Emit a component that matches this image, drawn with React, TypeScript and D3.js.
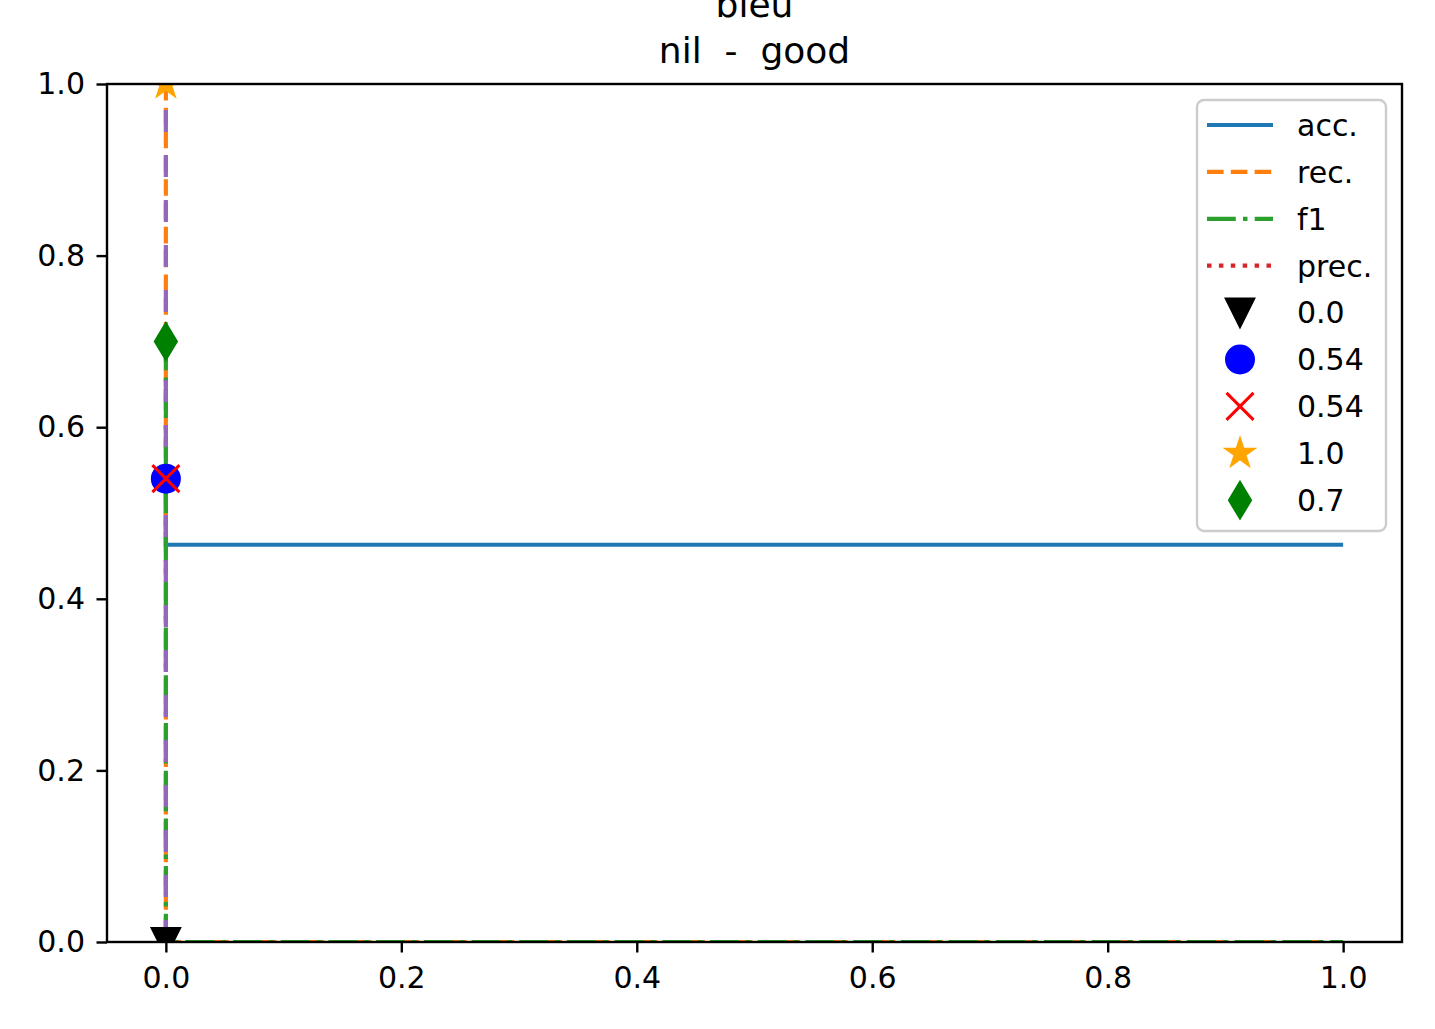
import { useEffect, useRef } from 'react'
import * as d3 from 'd3'

// curves: threshold on x, metric on y
const thresholds = [0.0, 0.0, 1.0]
const accValues = [0.54, 0.463, 0.463]
const recValues = [1.0, 0.0, 0.0]
const f1Values = [0.7, 0.0, 0.0]
const precValues = [0.54, NaN, NaN]

// best-threshold vertical line
const bestLineX = [0.0, 0.0]
const bestLineY = [0.0, 1.0]

// highlighted points
const markerLabels = ['0.0', '0.54', '0.54', '1.0', '0.7']
const markerValues = [0.0, 0.54, 0.54, 1.0, 0.7]
const markerThreshold = 0.0

const xTicks = [0.0, 0.2, 0.4, 0.6, 0.8, 1.0]
const yTicks = [0.0, 0.2, 0.4, 0.6, 0.8, 1.0]
const titleLines = ['bleu', 'nil  -  good']

const W = 1435
const H = 1029
const FONT = '"DejaVu Sans", sans-serif'

type Shape = 'triangle' | 'circle' | 'x' | 'star' | 'diamond'

const drawMarker = (
  g: d3.Selection<SVGGElement, unknown, null, undefined>,
  shape: Shape,
  cx: number,
  cy: number,
  color: string
) => {
  const s = 13.5
  if (shape === 'circle') {
    g.append('circle').attr('cx', cx).attr('cy', cy).attr('r', s)
      .attr('fill', color).attr('stroke', color).attr('stroke-width', 3)
  } else if (shape === 'triangle') {
    g.append('path')
      .attr('d', `M${cx - s},${cy - s}L${cx + s},${cy - s}L${cx},${cy + s}Z`)
      .attr('fill', color).attr('stroke', color).attr('stroke-width', 3)
      .attr('stroke-linejoin', 'miter')
  } else if (shape === 'x') {
    g.append('path')
      .attr('d', `M${cx - s},${cy - s}L${cx + s},${cy + s}M${cx - s},${cy + s}L${cx + s},${cy - s}`)
      .attr('stroke', color).attr('stroke-width', 3).attr('fill', 'none')
  } else if (shape === 'star') {
    const pts: [number, number][] = []
    for (let i = 0; i < 10; i++) {
      const r = i % 2 === 0 ? s : s * 0.381966
      const a = (i * Math.PI) / 5
      pts.push([cx + r * Math.sin(a), cy - r * Math.cos(a)])
    }
    g.append('path')
      .attr('d', d3.line()(pts) + 'Z')
      .attr('fill', color).attr('stroke', color).attr('stroke-width', 3)
      .attr('stroke-linejoin', 'miter')
  } else {
    const hh = 17.5
    const hw = 10.5
    g.append('path')
      .attr('d', `M${cx},${cy - hh}L${cx + hw},${cy}L${cx},${cy + hh}L${cx - hw},${cy}Z`)
      .attr('fill', color).attr('stroke', color).attr('stroke-width', 3)
      .attr('stroke-linejoin', 'miter')
  }
}

export default function App() {
  const svgRef = useRef<SVGSVGElement>(null)

  useEffect(() => {
    if (!svgRef.current) return
    const svg = d3.select(svgRef.current)
    svg.selectAll('*').remove()

    const margin = { top: 84, right: 33, bottom: 87, left: 107 }

    const x = d3.scaleLinear()
      .domain([-0.05, 1.05])
      .range([margin.left, W - margin.right])

    const y = d3.scaleLinear()
      .domain([0, 1])
      .range([H - margin.bottom, margin.top])

    svg.append('rect').attr('width', W).attr('height', H).attr('fill', '#fff')

    svg.append('defs').append('clipPath').attr('id', 'plot-clip')
      .append('rect')
      .attr('x', margin.left).attr('y', margin.top)
      .attr('width', W - margin.left - margin.right)
      .attr('height', H - margin.top - margin.bottom)

    const plot = svg.append('g').attr('clip-path', 'url(#plot-clip)')

    const line = d3.line<[number, number]>()
      .defined(d => !isNaN(d[1]))
      .x(d => x(d[0]))
      .y(d => y(d[1]))

    const lw = 4.2
    const series = [
      { name: 'acc.', values: accValues, color: '#1f77b4', dash: null },
      { name: 'rec.', values: recValues, color: '#ff7f0e', dash: '16.6,7.2' },
      { name: 'f1', values: f1Values, color: '#2ca02c', dash: '28.8,7.2,4.5,7.2' },
      { name: 'prec.', values: precValues, color: '#d62728', dash: '4.5,7.4' }
    ]

    series.forEach(s => {
      const pts = thresholds.map((t, i) => [t, s.values[i]] as [number, number])
      plot.append('path')
        .attr('d', line(pts))
        .attr('fill', 'none')
        .attr('stroke', s.color)
        .attr('stroke-width', lw)
        .attr('stroke-dasharray', s.dash)
    })

    // best-threshold line
    plot.append('path')
      .attr('d', line(bestLineX.map((t, i) => [t, bestLineY[i]] as [number, number])))
      .attr('fill', 'none')
      .attr('stroke', '#9467bd')
      .attr('stroke-width', lw)
      .attr('stroke-dasharray', '22,23')

    const markers: { shape: Shape; color: string }[] = [
      { shape: 'triangle', color: '#000000' },
      { shape: 'circle', color: '#0000ff' },
      { shape: 'x', color: '#ff0000' },
      { shape: 'star', color: '#ffa500' },
      { shape: 'diamond', color: '#008000' }
    ]

    markers.forEach((m, i) => {
      drawMarker(plot, m.shape, x(markerThreshold), y(markerValues[i]), m.color)
    })

    // axes
    const xAxis = svg.append('g')
      .attr('transform', `translate(0, ${H - margin.bottom})`)
      .call(d3.axisBottom(x).tickValues(xTicks).tickFormat(d3.format('.1f'))
        .tickSize(10.5).tickPadding(14))
    const yAxis = svg.append('g')
      .attr('transform', `translate(${margin.left}, 0)`)
      .call(d3.axisLeft(y).tickValues(yTicks).tickFormat(d3.format('.1f'))
        .tickSize(10.5).tickPadding(11.5))

    ;[xAxis, yAxis].forEach(a => {
      a.select('.domain').remove()
      a.selectAll('line').attr('stroke', '#000').attr('stroke-width', 2.4)
      a.selectAll('text')
        .style('font-family', FONT)
        .style('font-size', '30px')
        .attr('fill', '#000')
    })

    svg.append('rect')
      .attr('x', margin.left).attr('y', margin.top)
      .attr('width', W - margin.left - margin.right)
      .attr('height', H - margin.top - margin.bottom)
      .attr('fill', 'none')
      .attr('stroke', '#000')
      .attr('stroke-width', 2.4)

    // title (first line is partly cut by the top edge, as in the source figure)
    titleLines.forEach((t, i) => {
      svg.append('text')
        .attr('x', (margin.left + W - margin.right) / 2)
        .attr('y', 17 + i * 46)
        .attr('text-anchor', 'middle')
        .style('font-family', FONT)
        .style('font-size', '36px')
        .style('white-space', 'pre')
        .attr('fill', '#000')
        .text(t)
    })

    // legend
    const legend = svg.append('g')
    legend.append('rect')
      .attr('x', 1197).attr('y', 100)
      .attr('width', 189).attr('height', 431)
      .attr('rx', 7)
      .attr('fill', '#fff').attr('fill-opacity', 0.8)
      .attr('stroke', '#cccccc').attr('stroke-width', 2.4)

    const rowY = (i: number) => 125 + i * 46.9
    series.forEach((s, i) => {
      legend.append('line')
        .attr('x1', 1207).attr('x2', 1273)
        .attr('y1', rowY(i)).attr('y2', rowY(i))
        .attr('stroke', s.color)
        .attr('stroke-width', lw)
        .attr('stroke-dasharray', s.dash)
    })
    markers.forEach((m, i) => {
      drawMarker(legend, m.shape, 1240, rowY(i + series.length), m.color)
    })
    const legendLabels = [...series.map(s => s.name), ...markerLabels]
    legendLabels.forEach((lab, i) => {
      legend.append('text')
        .attr('x', 1297)
        .attr('y', rowY(i))
        .attr('dy', '0.36em')
        .style('font-family', FONT)
        .style('font-size', '30px')
        .attr('fill', '#000')
        .text(lab)
    })
  }, [])

  return (
    <svg
      ref={svgRef}
      width={W}
      height={H}
      style={{ position: 'absolute', left: 0, top: 0, display: 'block' }}
    />
  )
}
